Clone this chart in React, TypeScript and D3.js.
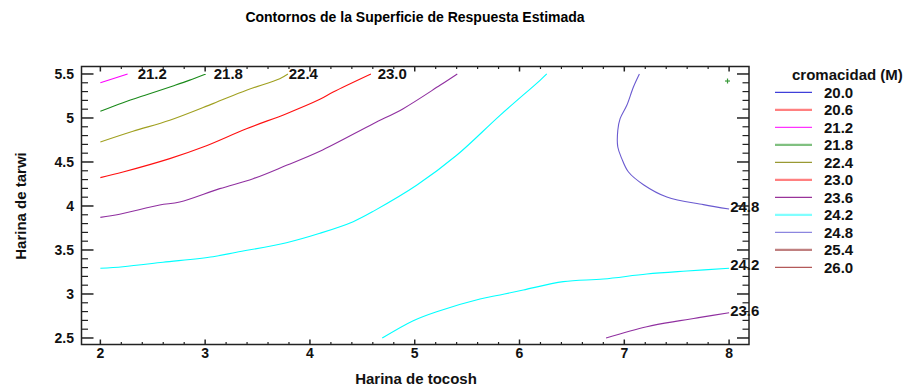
import React from "react";
import * as d3 from "d3";

const W = 911;
const H = 387;

// contour level legend
const legendLevels = ["20.0", "20.6", "21.2", "21.8", "22.4", "23.0", "23.6", "24.2", "24.8", "25.4", "26.0"];
const legendColors = ["#1010d0", "#ff8080", "#ff00ff", "#80c080", "#808000", "#ff8080", "#800080", "#80ffff", "#7068d8", "#c08080", "#a03030"];
const legendWidths = [1, 2.2, 1, 2.2, 1, 2.2, 1, 2.2, 1, 2.2, 1];

// axis ticks
const xTicks = [2, 3, 4, 5, 6, 7, 8];
const yTicks = [2.5, 3, 3.5, 4, 4.5, 5, 5.5];
const yTickLabels = ["2.5", "3", "3.5", "4", "4.5", "5", "5.5"];

// contour lines (x = Harina de tocosh, y = Harina de tarwi)
const c212: [number, number][] = [[2.0, 5.40], [2.26, 5.50]];
const c218: [number, number][] = [[2.0, 5.076], [2.216, 5.174], [2.455, 5.27], [2.693, 5.364], [2.853, 5.43], [3.006, 5.5]];
const c224: [number, number][] = [[2.0, 4.727], [2.311, 4.849], [2.662, 4.974], [3.075, 5.163], [3.394, 5.315], [3.712, 5.447], [3.79, 5.5]];
const c230: [number, number][] = [[2.0, 4.322], [2.216, 4.386], [2.662, 4.538], [2.98, 4.67], [3.394, 4.878], [3.776, 5.049], [4.095, 5.212], [4.222, 5.295], [4.582, 5.5]];
const c236a: [number, number][] = [[2.0, 3.871], [2.184, 3.906], [2.566, 4.011], [2.757, 4.045], [3.139, 4.197], [3.458, 4.31], [3.776, 4.462], [4.095, 4.622], [4.604, 4.935], [4.89, 5.106], [5.241, 5.371], [5.406, 5.5]];
const c242a: [number, number][] = [[2.0, 3.292], [2.216, 3.31], [2.598, 3.36], [3.075, 3.424], [3.299, 3.474], [3.776, 3.583], [4.095, 3.69], [4.413, 3.822], [4.62, 3.95], [5.018, 4.235], [5.4, 4.576], [5.814, 5.03], [6.196, 5.428], [6.26, 5.5]];
const c248: [number, number][] = [[7.144, 5.5], [7.087, 5.352], [7.024, 5.144], [6.96, 4.992], [6.938, 4.86], [6.938, 4.67], [6.976, 4.538], [7.04, 4.386], [7.183, 4.242], [7.406, 4.102], [7.755, 4.015], [8.0, 3.965]];
const c242b: [number, number][] = [[4.69, 2.5], [4.986, 2.697], [5.209, 2.799], [5.623, 2.943], [5.814, 2.989], [6.036, 3.045], [6.418, 3.14], [6.8, 3.17], [7.215, 3.227], [7.597, 3.261], [8.0, 3.292]];
const c236b: [number, number][] = [[6.826, 2.5], [7.215, 2.628], [7.533, 2.697], [7.724, 2.734], [8.0, 2.787]];

const contours = [
  { pts: c212, color: "#ff00ff" },
  { pts: c218, color: "#1a8a1a" },
  { pts: c224, color: "#a0a020" },
  { pts: c230, color: "#ff1010" },
  { pts: c236a, color: "#9030a0" },
  { pts: c242a, color: "#00ffff" },
  { pts: c248, color: "#6a5ad0" },
  { pts: c242b, color: "#00ffff" },
  { pts: c236b, color: "#9030a0" },
];

// contour labels: text, x, y (data coords, left edge / vertical centre)
const contourLabels: [string, number, number][] = [
  ["21.2", 2.356, 5.5],
  ["21.8", 3.082, 5.5],
  ["22.4", 3.798, 5.5],
  ["23.0", 4.646, 5.5],
  ["24.8", 8.01, 3.99],
  ["24.2", 8.01, 3.34],
  ["23.6", 8.01, 2.807],
];

// optimum marker
const optimum: [number, number] = [7.985, 5.42];

const FONT = "'Liberation Sans', Arial, Helvetica, sans-serif";

export default function App() {
  const left = 81.5, right = 749, top = 66.5, bottom = 344.5;
  const x = d3.scaleLinear().domain([1.82, 8.19]).range([left, right]);
  const y = d3.scaleLinear().domain([2.426, 5.585]).range([bottom, top]);
  const line = d3
    .line<[number, number]>()
    .x((d) => x(d[0]))
    .y((d) => y(d[1]))
    .curve(d3.curveCatmullRom.alpha(0.5));

  const xMinor = d3.range(2, 8.0001, 0.2).filter((v) => Math.abs(v - Math.round(v)) > 1e-6);
  const yMinor = d3.range(2.5, 5.5001, 0.1).filter((v) => Math.abs(v * 2 - Math.round(v * 2)) > 1e-6);

  const axisColor = "#222";
  const legendY0 = 92.3;
  const legendStep = 17.5;

  return (
    <svg width={W} height={H} style={{ position: "absolute", left: 0, top: 0, background: "#fff" }} fontFamily={FONT}>
      <rect x={0} y={0} width={W} height={H} fill="#fff" />
      <text x={415} y={17} textAnchor="middle" dominantBaseline="central" fontWeight="bold" fontSize={14}>
        Contornos de la Superficie de Respuesta Estimada
      </text>

      {contours.map((c, i) => (
        <path key={i} d={line(c.pts) || ""} fill="none" stroke={c.color} strokeWidth={1.1} />
      ))}

      {contourLabels.map(([t, lx, ly], i) => (
        <text key={i} x={x(lx)} y={y(ly)} dominantBaseline="central" fontWeight="bold" fontSize={15} fill="#111">
          {t}
        </text>
      ))}

      {/* optimum marker */}
      <g stroke="#3a9a3a" strokeWidth={1.2}>
        <line x1={x(optimum[0]) - 2.5} x2={x(optimum[0]) + 2.5} y1={y(optimum[1])} y2={y(optimum[1])} />
        <line x1={x(optimum[0])} x2={x(optimum[0])} y1={y(optimum[1]) - 2.5} y2={y(optimum[1]) + 2.5} />
      </g>

      {/* frame */}
      <rect x={left} y={top} width={right - left} height={bottom - top} fill="none" stroke={axisColor} strokeWidth={1.5} />

      {/* x ticks */}
      {xTicks.map((v) => (
        <g key={"xt" + v} stroke={axisColor} strokeWidth={1.5}>
          <line x1={x(v)} x2={x(v)} y1={bottom} y2={bottom - 5} />
          <line x1={x(v)} x2={x(v)} y1={top} y2={top + 5} />
        </g>
      ))}
      {xMinor.map((v, i) => (
        <g key={"xm" + i} stroke={axisColor} strokeWidth={1.2}>
          <line x1={x(v)} x2={x(v)} y1={bottom} y2={bottom - 2.5} />
          <line x1={x(v)} x2={x(v)} y1={top} y2={top + 2.5} />
        </g>
      ))}
      {/* y ticks */}
      {yTicks.map((v) => (
        <g key={"yt" + v} stroke={axisColor} strokeWidth={1.5}>
          <line x1={left} x2={left + 12} y1={y(v)} y2={y(v)} />
          <line x1={right} x2={right - 12} y1={y(v)} y2={y(v)} />
        </g>
      ))}
      {yMinor.map((v, i) => (
        <g key={"ym" + i} stroke={axisColor} strokeWidth={1.2}>
          <line x1={left} x2={left + 6.5} y1={y(v)} y2={y(v)} />
          <line x1={right} x2={right - 6.5} y1={y(v)} y2={y(v)} />
        </g>
      ))}

      {/* tick labels */}
      {xTicks.map((v) => (
        <text key={"xl" + v} x={x(v)} y={352.5} textAnchor="middle" dominantBaseline="central" fontWeight="bold" fontSize={14} fill="#111">
          {String(v)}
        </text>
      ))}
      {yTicks.map((v, i) => (
        <text key={"yl" + v} x={74} y={y(v)} textAnchor="end" dominantBaseline="central" fontWeight="bold" fontSize={14} fill="#111">
          {yTickLabels[i]}
        </text>
      ))}

      {/* axis titles */}
      <text x={416} y={378.5} textAnchor="middle" dominantBaseline="central" fontWeight="bold" fontSize={15} fill="#111">
        Harina de tocosh
      </text>
      <text transform={`translate(20,${206}) rotate(-90)`} textAnchor="middle" dominantBaseline="central" fontWeight="bold" fontSize={15} fill="#111">
        Harina de tarwi
      </text>

      {/* legend */}
      <text x={792} y={74} dominantBaseline="central" fontWeight="bold" fontSize={15} fill="#111">
        cromacidad (M)
      </text>
      {legendLevels.map((lv, i) => {
        const ly = legendY0 + i * legendStep;
        return (
          <g key={"lg" + lv}>
            <line x1={775} x2={812} y1={ly} y2={ly} stroke={legendColors[i]} strokeWidth={legendWidths[i]} />
            <text x={824} y={ly} dominantBaseline="central" fontWeight="bold" fontSize={15} fill="#111">
              {lv}
            </text>
          </g>
        );
      })}
    </svg>
  );
}
